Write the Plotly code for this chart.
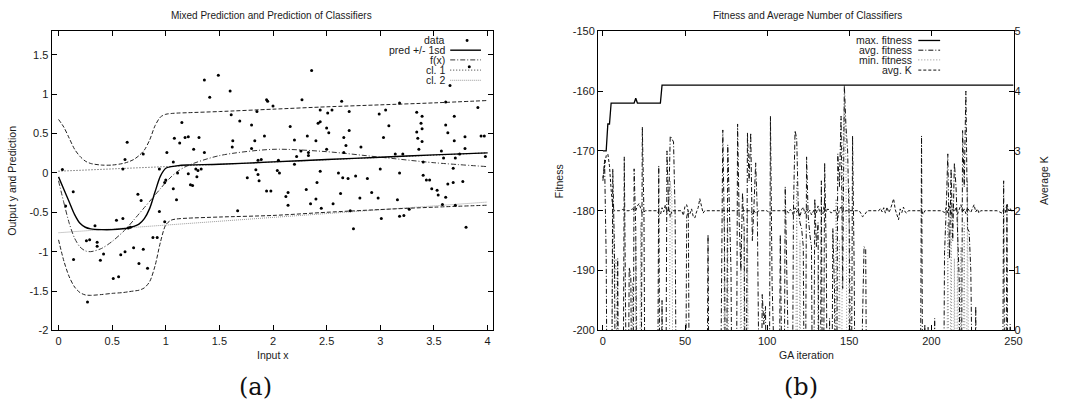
import plotly.graph_objects as go

W, H = 1083, 416

# ---------------- left panel: data ----------------
data_x = [0.036, 0.137, 0.066, 0.14, 0.27, 0.26, 0.29, 0.34, 0.36, 0.36,
          0.39, 0.42, 0.51, 0.56, 0.54, 0.58, 0.60, 0.60, 0.62, 0.62,
          0.64, 0.65, 0.67, 0.70, 0.74, 0.75, 0.77, 0.79, 0.79, 0.83,
          0.88, 0.92, 0.94, 0.94, 0.99, 0.99, 1.00, 1.01, 1.07, 1.07,
          1.08, 1.10, 1.11, 1.13, 1.15, 1.18, 1.21, 1.21, 1.23, 1.25,
          1.26, 1.28, 1.29, 1.30, 1.31, 1.33, 1.36, 1.36, 1.41, 1.49,
          1.60, 1.61, 1.62, 1.625, 1.67, 1.69, 1.76, 1.80, 1.80, 1.83,
          1.84, 1.85, 1.86, 1.86, 1.87, 1.89, 1.92, 1.94, 1.95, 1.94,
          1.98, 2.00, 2.04, 2.05, 2.06, 2.12, 2.14, 2.14, 2.16, 2.20,
          2.20, 2.22, 2.26, 2.27, 2.31, 2.32, 2.33, 2.33, 2.35, 2.36,
          2.40, 2.40, 2.41, 2.42, 2.44, 2.44, 2.44, 2.45, 2.50, 2.50,
          2.51, 2.52, 2.55, 2.56, 2.61, 2.63, 2.64, 2.65, 2.66, 2.66,
          2.68, 2.70, 2.71, 2.71, 2.72, 2.75, 2.77, 2.81, 2.82, 2.88,
          2.92, 2.98, 2.99, 3.00, 3.01, 3.03, 3.05, 3.08, 3.14, 3.16,
          3.18, 3.18, 3.18, 3.21, 3.22, 3.27, 3.34, 3.34, 3.35, 3.36,
          3.38, 3.39, 3.39, 3.39, 3.40, 3.40, 3.43, 3.46, 3.48, 3.53,
          3.54, 3.57, 3.58, 3.59, 3.61, 3.61, 3.61, 3.63, 3.63, 3.65,
          3.68, 3.68, 3.69, 3.69, 3.70, 3.70, 3.74, 3.77, 3.79, 3.79,
          3.80, 3.83, 3.91, 3.94, 3.97, 3.98]
data_y = [0.045, -0.24, -0.42, -1.10, -1.64, -0.86, -0.85, -0.67, -0.88, -0.93,
          -1.11, -1.03, -1.34, -1.32, -0.60, -1.04, -0.58, 0.05, 0.17, -1.0,
          0.39, -0.70, -0.69, -0.95, -0.27, -1.15, -0.35, 0.24, -0.97, -1.21,
          -0.82, -0.82, 0.05, -0.49, -0.12, -0.62, -0.09, 0.26, 0.14, -0.20,
          0.44, -0.34, 0.0, 0.38, 0.64, 0.45, 0.46, -0.01, -0.15, -0.16,
          0.30, 0.05, -0.05, 0.03, 0.45, 0.05, 0.26, 1.18, 0.96, 1.24,
          1.04, 0.74, 0.33, 0.41, -0.48, 0.66, -0.06, 0.61, 0.31, 0.41,
          0.04, 0.78, 0.16, -0.02, -0.10, 0.17, 0.47, 0.93, 0.91, -0.23,
          -0.23, 0.85, 0.03, 0.16, 0.00, -0.30, -0.25, -0.41, 0.59, 0.42,
          0.11, 0.21, 0.28, 0.93, -0.21, 0.47, 0.26, 0.22, -0.39, 1.30,
          0.41, -0.33, -0.12, 0.63, 0.65, 0.80, 0.02, -0.45, 0.57, 0.30,
          0.76, 0.51, 0.80, -0.39, 0.0, -0.26, 0.91, -0.06, 0.45, 0.26,
          0.35, -0.07, 0.78, 0.54, -0.48, -0.71, -0.04, -0.32, 0.33, -0.07,
          -0.25, -0.32, 0.75, 0.05, -0.58, 0.45, 0.80, 0.60, 0.24, -0.34,
          0.89, 0.0, -0.55, 0.24, -0.54, -0.46, 0.77, 0.52, 0.44, 0.30,
          0.63, 0.72, 0.56, 0.40, 0.14, -0.03, -0.09, -0.09, -0.20, -0.22,
          -0.28, 0.28, -0.40, 0.19, 0.90, 0.61, -0.31, 0.51, -0.14, 1.11,
          0.06, -0.12, 0.72, 0.41, 0.19, -0.41, 0.24, -0.11, 0.46, 0.31,
          -0.69, 1.35, 0.83, 0.47, 0.47, 0.21]

curve_x = [0, 0.05, 0.1, 0.15, 0.2, 0.25, 0.3, 0.4, 0.5, 0.6, 0.65, 0.7, 0.75, 0.8,
           0.85, 0.9, 0.95, 1.0, 1.05, 1.1, 1.2, 1.5, 2, 2.5, 3, 3.5, 4]
pred_y = [-0.05, -0.21, -0.37, -0.53, -0.64, -0.69, -0.71, -0.72, -0.72, -0.71, -0.70,
          -0.68, -0.65, -0.58, -0.45, -0.24, -0.04, 0.06, 0.08, 0.09, 0.10, 0.11, 0.14,
          0.17, 0.20, 0.23, 0.255]
upper_y = [0.68, 0.58, 0.44, 0.30, 0.21, 0.15, 0.12, 0.10, 0.10, 0.12, 0.14, 0.17, 0.22,
           0.29, 0.42, 0.60, 0.71, 0.745, 0.755, 0.76, 0.765, 0.78, 0.81, 0.84, 0.865,
           0.89, 0.92]
lower_y = [-0.85, -1.12, -1.32, -1.45, -1.52, -1.55, -1.555, -1.545, -1.53, -1.52, -1.51,
           -1.50, -1.49, -1.46, -1.38, -1.18, -0.88, -0.66, -0.60, -0.585, -0.575, -0.56,
           -0.54, -0.50, -0.465, -0.435, -0.41]
f_y = [-0.10, -0.38, -0.64, -0.83, -0.94, -0.99, -1.0, -0.96, -0.87, -0.75, -0.68, -0.60,
       -0.52, -0.44, -0.36, -0.28, -0.20, -0.12, -0.05, 0.01, 0.09, 0.22, 0.30, 0.27,
       0.20, 0.13, 0.08]
cl1_x = [0, 4]
cl1_y = [0.022, 0.255]
cl2_x = [0, 4]
cl2_y = [-0.76, -0.37]

left_xticks = [0, 0.5, 1, 1.5, 2, 2.5, 3, 3.5, 4]
left_xlabels = ["0", "0.5", "1", "1.5", "2", "2.5", "3", "3.5", "4"]
left_yticks = [-2, -1.5, -1, -0.5, 0, 0.5, 1, 1.5]
left_ylabels = ["-2", "-1.5", "-1", "-0.5", "0", "0.5", "1", "1.5"]

# ---------------- right panel: data ----------------
max_iter = [0, 2, 3, 4, 5, 19, 20, 21, 35, 36, 250]
max_fit = [-170, -170, -165.5, -165.5, -162, -162, -161.2, -162, -162, -159, -159]

avg_iter = [0, 1, 2, 3, 5, 6, 7, 8, 9, 10,
            12, 13, 14, 15, 16, 17, 18, 19, 20, 21,
            23, 24, 25, 26, 33, 34, 35, 36, 37, 38,
            39, 40, 41, 42, 43, 44, 45, 50, 51, 52,
            53, 63, 64, 65, 71, 72, 73, 74, 75, 76,
            77, 78, 79, 81, 82, 83, 84, 85, 86, 87,
            88, 89, 90, 91, 92, 93, 94, 95, 96, 97,
            98, 99, 100, 101, 102, 103, 104, 107, 108, 109,
            110, 111, 112, 115, 116, 117, 118, 119, 120, 121,
            122, 123, 124, 125, 126, 127, 128, 129, 130, 131,
            132, 133, 134, 135, 136, 137, 138, 139, 140, 141,
            142, 143, 144, 145, 146, 147, 148, 149, 150, 151,
            152, 153, 154, 157, 158, 159, 160, 161, 193, 194,
            195, 196, 197, 198, 199, 201, 202, 203, 207, 208,
            209, 210, 211, 212, 213, 214, 215, 216, 217, 218,
            219, 220, 221, 222, 223, 224, 225, 226, 227, 228,
            243, 244, 245, 246, 247, 248, 249, 250]
avg_fit = [-175, -171.5, -188, -235, -235, -173, -186, -235, -188, -235,
           -235, -171, -235, -235, -189.5, -191, -235, -173, -183, -235,
           -235, -166, -181, -235, -235, -172.5, -235, -195, -235, -235,
           -170, -180, -167.5, -168, -168.5, -181, -235, -235, -181, -180,
           -235, -235, -184, -235, -235, -198, -166.5, -185, -235, -169,
           -178, -190, -235, -235, -165.5, -182, -190, -177, -183, -235,
           -167, -175, -167, -185, -179, -172, -180, -235, -235, -194,
           -199, -196, -235, -235, -164.2, -192, -235, -235, -184, -235,
           -235, -176, -235, -235, -180, -166.6, -168, -180, -182, -183,
           -186, -235, -171, -181, -184, -186, -235, -178, -186, -182,
           -235, -175, -235, -172, -187, -235, -198, -235, -183, -193,
           -235, -170.5, -176, -164.2, -193, -159, -166, -170, -183, -235,
           -167.5, -190, -235, -235, -199, -186, -186.5, -235, -235, -167.5,
           -235, -199, -235, -199.5, -235, -235, -198, -235, -235, -187,
           -180, -170.5, -188, -173, -185, -172, -176, -183, -192, -235,
           -166.6, -176, -160, -183, -183.5, -190, -235, -235, -196, -235,
           -235, -175, -235, -179, -235, -199, -235, -235]

min_iter = [5, 6, 7, 8, 9, 17, 18, 19, 20, 21,
            22, 23, 24, 40, 41, 42, 43, 73, 74, 75,
            76, 77, 83, 84, 85, 86, 87, 88, 89, 117,
            118, 119, 120, 121, 130, 131, 132, 141, 142, 143,
            144, 145, 146, 147, 148, 149, 150, 151, 152, 209,
            210, 211, 212, 213, 214, 215, 216, 217, 218, 219,
            220, 221, 222, 223]
min_fit = [-235, -180, -192, -188, -235, -235, -192, -235, -185, -235,
           -235, -182, -235, -235, -175, -178, -235, -235, -180, -235,
           -182, -235, -235, -185, -235, -183, -235, -180, -235, -235,
           -175, -235, -185, -235, -235, -190, -235, -235, -178, -235,
           -185, -235, -170, -162, -172, -235, -176, -188, -235, -235,
           -182, -235, -178, -235, -188, -235, -180, -235, -186, -235,
           -182, -235, -175, -235]

K_iter = [0, 1, 2, 3, 4, 5, 6, 7, 10, 12,
          14, 16, 18, 20, 21, 22, 23, 24, 26, 30,
          33, 34, 35, 36, 37, 38, 39, 40, 41, 42,
          44, 48, 49, 50, 51, 52, 53, 54, 55, 56,
          57, 58, 59, 60, 61, 62, 64, 90, 91, 92,
          93, 95, 100, 102, 103, 104, 112, 113, 114, 115,
          116, 117, 118, 119, 120, 121, 122, 123, 124, 125,
          126, 127, 128, 129, 130, 131, 132, 133, 134, 135,
          136, 137, 138, 139, 140, 142, 143, 144, 145, 146,
          148, 156, 157, 158, 159, 160, 161, 162, 168, 169,
          170, 171, 172, 173, 174, 175, 176, 177, 178, 179,
          180, 181, 182, 183, 184, 185, 186, 194, 195, 196,
          206, 208, 209, 210, 211, 212, 213, 214, 215, 216,
          217, 218, 219, 220, 221, 222, 223, 224, 225, 226,
          227, 228, 229, 230, 232, 240, 243, 244, 245, 246,
          247, 248, 249, 250]
K_val = [2.55, 2.75, 2.92, 2.95, 2.75, 2.35, 2.05, 2.0, 2.0, 2.02,
         2.0, 2.0, 2.03, 2.0, 2.08, 2.12, 2.02, 1.96, 2.0, 2.0,
         2.0, 1.95, 1.93, 2.05, 1.98, 2.1, 1.95, 2.05, 1.9, 2.0,
         2.0, 2.0, 1.92, 2.08, 2.1, 1.98, 1.95, 2.03, 1.9, 1.88,
         1.98, 2.05, 2.2, 2.05, 1.96, 2.0, 2.0, 2.0, 1.95, 2.0,
         1.96, 2.0, 2.0, 1.94, 2.0, 2.0, 2.0, 1.96, 2.02, 2.0,
         1.92, 2.05, 1.98, 2.04, 1.9, 2.02, 2.06, 1.95, 2.03, 1.97,
         2.01, 1.93, 2.0, 2.04, 1.96, 2.08, 1.98, 2.02, 1.95, 2.15,
         1.98, 2.03, 2.0, 1.96, 2.0, 2.0, 1.88, 2.02, 2.06, 1.97,
         2.0, 2.0, 1.96, 1.9, 1.92, 1.97, 2.0, 2.0, 2.0, 2.04,
         1.98, 2.05, 1.96, 2.06, 1.97, 2.02, 2.1, 2.2, 2.02, 1.95,
         1.85, 2.03, 1.97, 2.06, 1.98, 1.96, 2.0, 2.0, 1.94, 2.0,
         2.0, 1.97, 2.05, 1.96, 2.08, 1.93, 2.03, 1.98, 2.06, 1.95,
         2.04, 2.1, 1.97, 2.03, 1.95, 2.05, 2.0, 1.97, 2.04, 2.1,
         1.98, 2.03, 1.96, 2.0, 2.0, 2.0, 1.96, 2.02, 1.97, 2.12,
         2.0, 2.04, 1.98, 2.0]

right_xticks = [0, 50, 100, 150, 200, 250]
right_xlabels = ["0", "50", "100", "150", "200", "250"]
fit_ticks = [-200, -190, -180, -170, -160, -150]
fit_labels = ["-200", "-190", "-180", "-170", "-160", "-150"]
k_ticks = [0, 1, 2, 3, 4, 5]
k_labels = ["0", "1", "2", "3", "4", "5"]

# ---------------- helpers ----------------
def px(x):
    return x / W


def py(y):
    return 1 - y / H


FONT = "Liberation Sans, Arial, Helvetica, sans-serif"
TXT = "#1a1a1a"

fig = go.Figure()

# left panel traces
fig.add_trace(go.Scatter(x=cl2_x, y=cl2_y, mode="lines", xaxis="x", yaxis="y",
                         line=dict(color="#9a9a9a", width=1, dash="1px,1px")))
fig.add_trace(go.Scatter(x=cl1_x, y=cl1_y, mode="lines", xaxis="x", yaxis="y",
                         line=dict(color="#333333", width=1, dash="1px,2px")))
fig.add_trace(go.Scatter(x=curve_x, y=f_y, mode="lines", xaxis="x", yaxis="y",
                         line=dict(color="#333333", width=1, dash="5px,2px,1px,2px",
                                   shape="spline", smoothing=0.8)))
fig.add_trace(go.Scatter(x=curve_x, y=upper_y, mode="lines", xaxis="x", yaxis="y",
                         line=dict(color="#222222", width=1, dash="4px,2px",
                                   shape="spline", smoothing=0.8)))
fig.add_trace(go.Scatter(x=curve_x, y=lower_y, mode="lines", xaxis="x", yaxis="y",
                         line=dict(color="#222222", width=1, dash="4px,2px",
                                   shape="spline", smoothing=0.8)))
fig.add_trace(go.Scatter(x=curve_x, y=pred_y, mode="lines", xaxis="x", yaxis="y",
                         line=dict(color="black", width=1.4,
                                   shape="spline", smoothing=0.8)))
fig.add_trace(go.Scatter(x=data_x, y=data_y, mode="markers", xaxis="x", yaxis="y",
                         marker=dict(color="black", size=3, line=dict(width=0))))

# right panel traces
fig.add_trace(go.Scatter(x=min_iter, y=min_fit, mode="lines", xaxis="x2", yaxis="y2",
                         line=dict(color="#8a8a8a", width=1, dash="1px,2px")))
fig.add_trace(go.Scatter(x=avg_iter, y=avg_fit, mode="lines", xaxis="x2", yaxis="y2",
                         line=dict(color="#111111", width=1, dash="5px,2px,1px,2px")))
fig.add_trace(go.Scatter(x=K_iter, y=K_val, mode="lines", xaxis="x2", yaxis="y3",
                         line=dict(color="#111111", width=1, dash="3px,2px")))
fig.add_trace(go.Scatter(x=max_iter, y=max_fit, mode="lines", xaxis="x2", yaxis="y2",
                         line=dict(color="black", width=1.3)))

tickfont = dict(family=FONT, size=11, color=TXT)
common = dict(showgrid=False, zeroline=False, showline=True, linecolor="black",
              linewidth=1, ticks="inside", ticklen=5, tickcolor="black",
              tickfont=tickfont)

ydom = [py(334), py(26)]
fig.update_layout(
    width=W, height=H, autosize=False,
    margin=dict(l=0, r=0, t=0, b=0),
    paper_bgcolor="white", plot_bgcolor="white",
    showlegend=False,
    xaxis=dict(domain=[px(52), px(497)], range=[-0.065, 4.05], anchor="y",
               tickmode="array", tickvals=left_xticks, ticktext=left_xlabels,
               mirror="ticks", **common),
    yaxis=dict(domain=ydom, range=[-2, 1.8], anchor="x",
               tickmode="array", tickvals=left_yticks, ticktext=left_ylabels,
               mirror="ticks", **common),
    xaxis2=dict(domain=[px(603), px(1022)], range=[-3, 250], anchor="y2",
                tickmode="array", tickvals=right_xticks, ticktext=right_xlabels,
                mirror="ticks", **common),
    yaxis2=dict(domain=ydom, range=[-200, -150], anchor="x2",
                tickmode="array", tickvals=fit_ticks, ticktext=fit_labels,
                mirror=True, **common),
    yaxis3=dict(range=[0, 5], anchor="x2", overlaying="y2", side="right",
                tickmode="array", tickvals=k_ticks, ticktext=k_labels,
                showgrid=False, zeroline=False, showline=False,
                ticks="inside", ticklen=5, tickcolor="black", tickfont=tickfont),
)

ann = []


def text(x, y, s, size=10, angle=0, xanchor="center", family=FONT, color=TXT):
    ann.append(dict(x=px(x), y=py(y), xref="paper", yref="paper", text=s,
                    showarrow=False, textangle=angle, xanchor=xanchor,
                    yanchor="middle", font=dict(family=family, size=size, color=color)))


# titles and axis labels
text(274, 10, "Mixed Prediction and Prediction of Classifiers", 10)
text(814, 10, "Fitness and Average Number of Classifiers", 10)
text(275, 359, "Input x", 10.5)
text(813, 359, "GA iteration", 10.5)
text(12, 180, "Output y and Prediction", 10.5, angle=-90)
text(563, 180, "Fitness", 10.5, angle=-90)
text(1053, 180, "Average K", 10.5, angle=-90)
text(258, 392, "(a)", 24, family="DejaVu Serif, serif", color="#111")
text(808, 392, "(b)", 24, family="DejaVu Serif, serif", color="#111")

# custom gnuplot-style legends (text, then sample)
rows = [35.5, 45.5, 55.5, 66, 76.5]
left_names = ["data", "pred +/- 1sd", "f(x)", "cl. 1", "cl. 2"]
for r, name in zip(rows, left_names):
    text(451, r, name, 10.5, xanchor="right")
right_names = ["max. fitness", "avg. fitness", "min. fitness", "avg. K"]
for r, name in zip(rows, right_names):
    text(922, r, name, 10.5, xanchor="right")

shapes = []


def seg(x0, x1, y, color, width, dash):
    shapes.append(dict(type="line", xref="paper", yref="paper",
                       x0=px(x0), x1=px(x1), y0=py(y), y1=py(y),
                       line=dict(color=color, width=width, dash=dash)))


shapes.append(dict(type="circle", xref="paper", yref="paper",
                   x0=px(469.5), x1=px(472.5), y0=py(37), y1=py(34),
                   fillcolor="black", line=dict(width=0)))
seg(454, 485, rows[1], "black", 1.4, "solid")
seg(454, 485, rows[2], "#333333", 1, "5px,2px,1px,2px")
seg(454, 485, rows[3], "#333333", 1, "1px,2px")
seg(454, 485, rows[4], "#9a9a9a", 1, "1px,1px")

seg(926, 948, rows[0], "black", 1.3, "solid")
seg(926, 948, rows[1], "#111111", 1, "5px,2px,1px,2px")
seg(926, 948, rows[2], "#8a8a8a", 1, "1px,2px")
seg(926, 948, rows[3], "#111111", 1, "3px,2px")

fig.update_layout(annotations=ann, shapes=shapes)

fig.write_html("out.html")
